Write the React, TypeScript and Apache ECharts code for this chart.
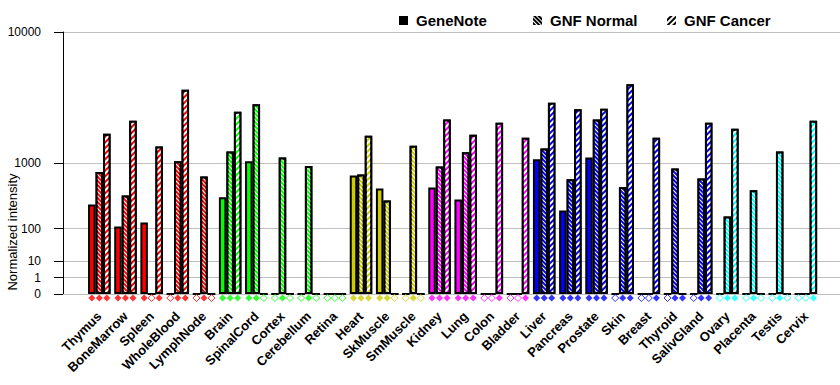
import React, { useEffect, useRef } from 'react';
import * as echarts from 'echarts';

const tissues = ['Thymus', 'BoneMarrow', 'Spleen', 'WholeBlood', 'LymphNode', 'Brain', 'SpinalCord', 'Cortex', 'Cerebellum', 'Retina', 'Heart', 'SkMuscle', 'SmMuscle', 'Kidney', 'Lung', 'Colon', 'Bladder', 'Liver', 'Pancreas', 'Prostate', 'Skin', 'Breast', 'Thyroid', 'SalivGland', 'Ovary', 'Placenta', 'Testis', 'Cervix'];
const tissueGroup = [0, 0, 0, 0, 0, 1, 1, 1, 1, 1, 2, 2, 2, 3, 3, 3, 3, 4, 4, 4, 4, 4, 4, 4, 5, 5, 5, 5];
const groupColors = ['#FF0000', '#00FF00', '#CCCC00', '#FF00FF', '#0000FF', '#00FFFF'];

const geneNote = [281, 110, 134, 0, 0, 366, 1046, 0, 0, 0, 715, 486, 0, 501, 337, 0, 0, 1100, 224, 1143, 0, 0, 0, 0, 0, 0, 0, 0];
const gnfNormal = [791, 387, 0, 1046, 695, 1319, 3423, 1143, 928, 0, 735, 326, 1512, 912, 1301, 0, 0, 1414, 645, 2586, 508, 0, 865, 657, 175, 462, 1319, 0];
const gnfCancer = [1958, 2536, 1479, 4377, 0, 2998, 0, 0, 0, 0, 1877, 0, 0, 2586, 1918, 2440, 1800, 3519, 3131, 3166, 4772, 1800, 0, 2440, 2167, 0, 0, 2536];

const presGeneNote = [1, 1, 1, 0, 0, 1, 1, 0, 0, 0, 1, 1, 0, 1, 1, 0, 0, 1, 1, 1, 0, 0, 0, 0, 0, 0, 0, 0];
const presNormal = [1, 1, 0, 1, 1, 1, 1, 1, 1, 0, 1, 1, 1, 1, 1, 0, 0, 1, 1, 1, 1, 0, 1, 1, 1, 1, 1, 0];
const presCancer = [1, 1, 1, 1, 0, 1, 0, 0, 0, 0, 1, 0, 0, 1, 1, 1, 1, 1, 1, 1, 1, 1, 1, 1, 1, 0, 0, 1];

const yTickValues = [0, 1, 10, 100, 1000, 10000];
const seriesNames = ['GeneNote', 'GNF Normal', 'GNF Cancer'];

const FONT = '"Liberation Sans", Arial, Helvetica, sans-serif';
const EXP = Math.log10(2);
const tf = (v: number) => (v <= 0 ? 0 : Math.pow(v, EXP));

export default function App() {
  const ref = useRef<HTMLDivElement>(null);
  useEffect(() => {
    document.body.style.margin = '0';
    const chart = echarts.init(ref.current!, null, { renderer: 'svg' });
    const yPos = yTickValues.map(tf);
    const colorOf = (i: number) => groupColors[tissueGroup[i]];

    const decalNormal = {
      symbol: 'rect', symbolSize: 1, color: '#ffffff',
      dashArrayX: [1, 0], dashArrayY: [1, 2], rotation: Math.PI / 4,
    };
    const decalCancer = {
      symbol: 'rect', symbolSize: 1, color: '#ffffff',
      dashArrayX: [1, 0], dashArrayY: [2, 2], rotation: -Math.PI / 4,
    };

    const mkBar = (name: string, vals: number[], decal: any) => ({
      type: 'bar',
      name,
      barWidth: 7.5,
      barGap: '0%',
      itemStyle: { color: '#000', borderColor: '#000', borderWidth: 2, decal: decal || undefined },
      data: vals.map((v, i) => ({ value: [i, tf(v)], itemStyle: { color: colorOf(i) } })),
    });

    const mkDots = (pres: number[], dx: number) => ({
      type: 'scatter',
      symbol: 'diamond',
      symbolSize: 7,
      symbolOffset: [dx, 4],
      clip: false,
      silent: true,
      z: 5,
      data: pres.map((p, i) => ({
        value: [i, 0],
        itemStyle: p
          ? { color: colorOf(i), borderWidth: 0 }
          : { color: '#ffffff', borderColor: colorOf(i), borderWidth: 1 },
      })),
    });

    const legendBase = {
      icon: 'rect',
      itemWidth: 9,
      itemHeight: 9,
      padding: 0,
      top: 13,
      selectedMode: false,
      itemStyle: { borderWidth: 0 },
      textStyle: { fontFamily: FONT, fontSize: 15, fontWeight: 'bold', color: '#000', padding: [0, 0, 0, 3] },
    };

    chart.setOption({
      animation: false,
      backgroundColor: '#ffffff',
      textStyle: { fontFamily: FONT },
      grid: { left: 63, right: 0, top: 32, bottom: 91, containLabel: false },
      legend: [
        { ...legendBase, data: [seriesNames[0]], left: 399 },
        { ...legendBase, data: [seriesNames[1]], left: 533 },
        { ...legendBase, data: [seriesNames[2]], left: 667 },
      ],
      xAxis: {
        type: 'value',
        min: -1.387,
        max: 28.304,
        axisLine: { show: true, onZero: false, lineStyle: { color: '#C0C0C0', width: 1 } },
        axisTick: { show: false },
        splitLine: { show: false },
        axisLabel: {
          customValues: tissues.map((_, i) => i),
          formatter: (v: number) => tissues[Math.round(v)] || '',
          rotate: 45,
          margin: 20,
          fontFamily: FONT,
          fontWeight: 'bold',
          fontSize: 13,
          color: '#000',
          hideOverlap: false,
        },
      },
      yAxis: {
        type: 'value',
        min: 0,
        max: 16,
        axisLine: { show: true, onZero: false, lineStyle: { color: '#000', width: 1 } },
        axisTick: { show: true, length: 9, customValues: yPos, lineStyle: { color: '#000' } },
        axisLabel: {
          customValues: yPos,
          formatter: (v: number) => {
            let best = 0;
            yPos.forEach((p, k) => { if (Math.abs(p - v) < Math.abs(yPos[best] - v)) best = k; });
            return String(yTickValues[best]);
          },
          margin: 22,
          fontFamily: FONT,
          fontSize: 12,
          color: '#000',
        },
        splitLine: { show: true, lineStyle: { color: '#C0C0C0', width: 1 } },
      },
      graphic: [
        {
          type: 'text',
          x: 12,
          y: 232,
          rotation: Math.PI / 2,
          style: {
            text: 'Normalized intensity',
            font: '13px "Liberation Sans", Arial, sans-serif',
            fill: '#000',
            align: 'center',
            verticalAlign: 'middle',
          },
        },
      ],
      series: [
        mkBar(seriesNames[0], geneNote, null),
        mkBar(seriesNames[1], gnfNormal, decalNormal),
        mkBar(seriesNames[2], gnfCancer, decalCancer),
        mkDots(presGeneNote, -7.5),
        mkDots(presNormal, 0),
        mkDots(presCancer, 7.5),
      ],
    });
    return () => chart.dispose();
  }, []);
  return <div ref={ref} style={{ width: 840, height: 385 }} />;
}
